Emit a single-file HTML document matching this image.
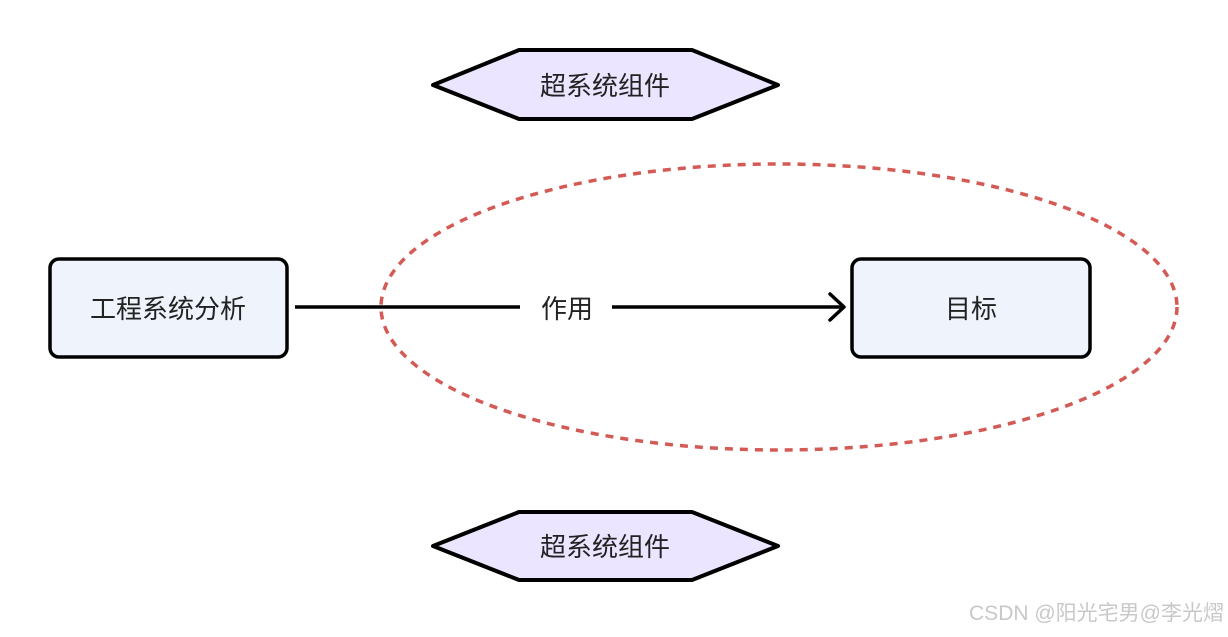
<!DOCTYPE html>
<html><head><meta charset="utf-8"><style>
html,body{margin:0;padding:0;background:#fff;}
svg text{font-family:"Liberation Sans","Noto Sans CJK SC",sans-serif;}
</style></head><body>
<svg width="1228" height="632" viewBox="0 0 1228 632" xmlns="http://www.w3.org/2000/svg">
<polygon points="433,85 519,50 692,50 778,85 692,119 519,119" fill="#ECE5FF" stroke="#000" stroke-width="4" stroke-linejoin="round"/>
<text x="605" y="95" font-size="26" text-anchor="middle" fill="#222">超系统组件</text>
<polygon points="433,546 519,512 692,512 778,546 692,580 519,580" fill="#ECE5FF" stroke="#000" stroke-width="4" stroke-linejoin="round"/>
<text x="605" y="556" font-size="26" text-anchor="middle" fill="#222">超系统组件</text>
<ellipse cx="779" cy="307" rx="398" ry="143" fill="none" stroke="#D45A55" stroke-width="3.5" stroke-dasharray="8,7"/>
<rect x="50" y="259" width="237" height="98" rx="9" fill="#EFF4FC" stroke="#000" stroke-width="3.5"/>
<text x="168" y="318" font-size="26" text-anchor="middle" fill="#222">工程系统分析</text>
<rect x="852" y="259" width="238" height="98" rx="9" fill="#EFF4FC" stroke="#000" stroke-width="3.5"/>
<text x="971" y="318" font-size="26" text-anchor="middle" fill="#222">目标</text>
<line x1="295" y1="307" x2="520" y2="307" stroke="#000" stroke-width="3.5"/>
<line x1="612" y1="307" x2="843" y2="307" stroke="#000" stroke-width="3.5"/>
<polyline points="830,294 844,307 830,320" fill="none" stroke="#000" stroke-width="3.5" stroke-linecap="round" stroke-linejoin="round"/>
<text x="567" y="318" font-size="26" text-anchor="middle" fill="#222">作用</text>
<text x="1224" y="620" font-size="21" text-anchor="end" fill="#c8c8c8">CSDN @阳光宅男@李光熠</text>
</svg>
</body></html>
